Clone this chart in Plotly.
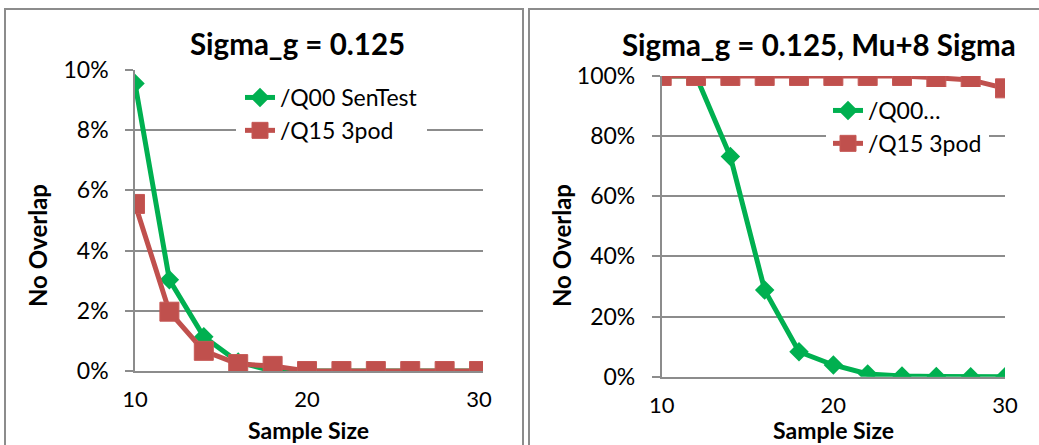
import plotly.graph_objects as go

# Sample sizes on the horizontal axis
sample_size = [10, 12, 14, 16, 18, 20, 22, 24, 26, 28, 30]

# Left panel: Sigma_g = 0.125 (fraction with no overlap)
left_q00_sentest = [0.0955, 0.0303, 0.0114, 0.0030, 0.0000, 0.0000, 0.0000, 0.0000, 0.0000, 0.0000, 0.0000]
left_q15_3pod = [0.0555, 0.0197, 0.0067, 0.0023, 0.0017, 0.0000, 0.0000, 0.0000, 0.0000, 0.0000, 0.0000]

# Right panel: Sigma_g = 0.125, Mu+8 Sigma
right_q00 = [1.000, 1.000, 0.732, 0.288, 0.083, 0.039, 0.009, 0.002, 0.001, 0.000, 0.000]
right_q15_3pod = [1.000, 1.000, 1.000, 1.000, 1.000, 1.000, 1.000, 1.000, 0.994, 0.987, 0.959]

series_names_left = ["/Q00 SenTest", "/Q15 3pod"]
series_names_right = ["/Q00…", "/Q15 3pod"]
panel_titles = ["Sigma_g = 0.125", "Sigma_g = 0.125, Mu+8 Sigma"]
x_title = "Sample Size"
y_title = "No Overlap"

W, H = 1039, 445
GREEN = "#00B050"
RED = "#C0504D"
GRID = "#8C8C8C"
FONT = "Lato"


def px_x(v):
    return v / W


def px_y(v):
    return 1 - v / H


fig = go.Figure()

green_style = dict(mode="lines+markers", line=dict(color=GREEN, width=5),
                   marker=dict(symbol="diamond", size=15, color=GREEN))
red_style = dict(mode="lines+markers", line=dict(color=RED, width=5),
                 marker=dict(symbol="square", size=19, color=RED,
                             line=dict(color="#C65855", width=1)))

fig.add_trace(go.Scatter(x=sample_size, y=left_q00_sentest, name=series_names_left[0],
                         xaxis="x", yaxis="y", legend="legend", **green_style))
fig.add_trace(go.Scatter(x=sample_size, y=left_q15_3pod, name=series_names_left[1],
                         xaxis="x", yaxis="y", legend="legend", **red_style))
fig.add_trace(go.Scatter(x=sample_size, y=right_q00, name=series_names_right[0],
                         xaxis="x2", yaxis="y2", legend="legend2", **green_style))
fig.add_trace(go.Scatter(x=sample_size, y=right_q15_3pod, name=series_names_right[1],
                         xaxis="x2", yaxis="y2", legend="legend2", **red_style))

ytick_font = dict(family=FONT, size=23, color="#000000")
xtick_font = dict(family=FONT, size=22, color="#000000")
legend_font = dict(family=FONT, size=23, color="#000000")

xaxis_common = dict(
    tickvals=[10, 20, 30], showgrid=False, zeroline=False, automargin=False,
    showline=True, linecolor=GRID, linewidth=1.6,
    ticks="", tickfont=xtick_font, ticklabelstandoff=8,
)
yaxis_common = dict(
    tickformat=".0%", showgrid=True, gridcolor=GRID, gridwidth=1.6,
    zeroline=False, showline=True, linecolor=GRID, linewidth=1.6, automargin=False,
    ticks="outside", ticklen=8, tickcolor=GRID, tickwidth=1.6,
    tickfont=ytick_font, ticklabelstandoff=12,
)

fig.update_layout(
    template="none",
    width=W, height=H,
    margin=dict(l=0, r=0, t=0, b=0, autoexpand=False),
    paper_bgcolor="white", plot_bgcolor="white",
    font=dict(family=FONT, color="#000000"),
    xaxis=dict(domain=[px_x(135), px_x(483)], range=[10, 30.23], anchor="y", **xaxis_common),
    yaxis=dict(domain=[px_y(371), px_y(70)], range=[0, 0.1], dtick=0.02, anchor="x", **yaxis_common),
    xaxis2=dict(domain=[px_x(661.7), px_x(1005)], range=[10, 30.0], anchor="y2", **xaxis_common),
    yaxis2=dict(domain=[px_y(376.7), px_y(76)], range=[0, 1.0], dtick=0.2, anchor="x2", **yaxis_common),
    legend=dict(x=px_x(236), y=px_y(72), xanchor="left", yanchor="top",
                bgcolor="white", bordercolor="white", borderwidth=4,
                font=legend_font, tracegroupgap=0),
    legend2=dict(x=px_x(826), y=px_y(87), xanchor="left", yanchor="top",
                 bgcolor="white", bordercolor="white", borderwidth=2,
                 font=legend_font, tracegroupgap=0),
    showlegend=True,
)

# Panel frames
fig.add_shape(type="rect", xref="paper", yref="paper",
              x0=px_x(5), x1=px_x(523), y0=px_y(460), y1=px_y(9),
              line=dict(color=GRID, width=2), layer="below")
fig.add_shape(type="rect", xref="paper", yref="paper",
              x0=px_x(529), x1=px_x(1060), y0=px_y(460), y1=px_y(9),
              line=dict(color=GRID, width=2), layer="below")

annotations = [
    dict(text="<b>%s</b>" % panel_titles[0], x=px_x(297), y=px_y(43), font_size=29.5),
    dict(text="<b>%s</b>" % panel_titles[1], x=px_x(819), y=px_y(44), font_size=29.5),
    dict(text="<b>%s</b>" % x_title, x=px_x(308), y=px_y(430), font_size=23),
    dict(text="<b>%s</b>" % x_title, x=px_x(833), y=px_y(430), font_size=23),
    dict(text="<b>%s</b>" % y_title, x=px_x(37), y=px_y(246), font_size=24, textangle=-90),
    dict(text="<b>%s</b>" % y_title, x=px_x(561), y=px_y(246), font_size=24, textangle=-90),
]
for a in annotations:
    fs = a.pop("font_size")
    fig.add_annotation(xref="paper", yref="paper", xanchor="center", yanchor="middle",
                       showarrow=False, font=dict(family=FONT, size=fs, color="#000000"), **a)

fig.write_html("out.html")
